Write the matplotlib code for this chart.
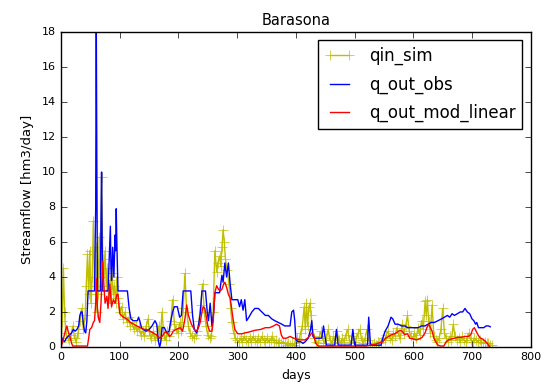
import matplotlib
matplotlib.use("Agg")
import matplotlib.pyplot as plt

plt.style.use("classic")

title = "Barasona"
xlabel = "days"
ylabel = "Streamflow [hm3/day]"
series_names = ["qin_sim", "q_out_obs", "q_out_mod_linear"]
x_ticks = [0, 100, 200, 300, 400, 500, 600, 700, 800]
y_ticks = [0, 2, 4, 6, 8, 10, 12, 14, 16, 18]

qin_days = [0, 2, 4, 6, 8, 11, 14, 17, 20, 23, 26, 29, 32, 35, 38,
            41, 43, 45, 47, 49, 51, 53, 55, 57, 59, 61, 63, 65, 67, 69, 71, 73, 75, 77, 79,
            81, 83, 85, 87, 89, 91, 93, 95, 97, 100, 103, 106, 109, 112, 115, 118, 121, 124,
            127, 130, 133, 136, 139, 142, 145, 148, 151, 154, 157, 160, 163, 166, 169, 172,
            175, 178, 181, 184, 187, 190, 193, 196, 199, 202, 205, 208, 211, 214, 217, 220,
            223, 226, 229, 232, 235, 238, 241, 244, 247, 250, 253, 256, 259, 262, 265, 267,
            270, 272, 274, 276, 278, 280, 283, 286, 289, 291, 294, 297, 300, 303, 306, 309,
            312, 315, 318, 321, 324, 327, 330, 333, 336, 339, 342, 345, 348, 351, 354, 357,
            360, 363, 366, 369, 372, 375, 378, 381, 384, 387, 390, 393, 396, 399, 402, 405,
            408, 411, 414, 416, 418, 420, 422, 424, 426, 428, 431, 434, 437, 440, 443, 446,
            449, 452, 455, 458, 461, 464, 467, 470, 473, 476, 479, 482, 485, 488, 491, 494,
            497, 500, 503, 506, 509, 512, 515, 518, 521, 524, 527, 530, 533, 536, 539, 542,
            545, 548, 551, 554, 557, 560, 563, 566, 569, 572, 575, 578, 581, 584, 587, 590,
            593, 596, 599, 602, 605, 608, 611, 614, 617, 620, 622, 624, 626, 629, 632, 635,
            638, 641, 644, 647, 650, 653, 656, 659, 662, 665, 668, 671, 674, 677, 680, 683,
            686, 689, 692, 695, 698, 701, 704, 707, 710, 713, 716, 719, 722, 725, 728, 731, 734]
qin_sim = [0.3, 1.5, 4.5, 2.0, 0.8, 0.5, 0.4, 0.7, 1.2, 0.5, 0.3, 0.8, 1.5, 2.2, 1.0,
           1.8, 3.5, 5.3, 3.0, 5.5, 2.5, 4.0, 7.2, 3.5, 5.7, 2.0, 3.0, 6.3, 4.0, 9.7, 5.0, 4.2, 5.5, 3.5, 4.5,
           2.8, 3.8, 2.5, 4.2, 3.0, 3.5, 2.5, 4.0, 2.8, 2.0, 2.3, 1.6, 2.0, 1.4, 1.7, 1.2, 1.4, 1.0,
           1.2, 0.9, 1.1, 0.7, 0.9, 0.6, 1.2, 1.6, 0.7, 0.5, 0.9, 0.4, 0.6, 1.2, 0.5, 2.0,
           0.7, 0.4, 0.9, 0.6, 1.5, 2.7, 1.3, 1.0, 0.8, 1.4, 0.9, 2.2, 4.2, 2.0, 1.2, 0.8,
           0.6, 0.5, 0.7, 0.9, 1.5, 2.4, 3.6, 2.0, 1.2, 0.7, 0.5, 0.6, 2.0, 5.5, 4.3, 4.8,
           5.2, 4.6, 5.7, 6.7, 6.0, 5.0, 4.4, 3.6, 2.2, 1.4, 0.8, 0.5, 0.4, 0.3, 0.5, 0.3,
           0.6, 0.4, 0.3, 0.5, 0.3, 0.6, 0.4, 0.3, 0.5, 0.3, 0.6, 0.4, 0.3, 0.5, 0.3, 0.4,
           0.6, 0.3, 0.4, 0.2, 0.3, 0.2, 0.3, 0.2, 0.1, 0.2, 0.1, 0.2, 0.1, 0.2, 0.5, 0.3,
           0.8, 1.2, 2.3, 1.0, 2.5, 1.2, 2.3, 2.5, 1.8, 1.0, 0.5, 0.3, 0.2, 0.6, 0.9, 0.4,
           0.2, 0.5, 1.0, 0.4, 0.2, 0.6, 0.3, 0.9, 0.4, 0.2, 0.5, 0.3, 0.7, 1.0, 0.4, 0.2,
           0.6, 0.3, 0.5, 0.8, 1.0, 0.4, 0.2, 0.5, 1.0, 0.4, 0.2, 0.1, 0.2, 0.1, 0.3, 0.2,
           0.3, 0.5, 0.4, 0.7, 0.9, 0.5, 0.4, 0.8, 0.6, 1.1, 0.7, 0.5, 1.3, 0.8, 1.2, 1.8,
           0.9, 0.6, 0.5, 0.8, 0.5, 1.1, 0.7, 1.5, 1.0, 2.6, 1.8, 2.7, 1.5, 0.8, 2.4, 0.6,
           0.4, 0.3, 0.5, 1.0, 2.2, 0.8, 0.5, 0.3, 0.6, 0.4, 1.3, 0.6, 0.4, 0.5, 0.3, 0.6,
           0.4, 0.3, 0.5, 0.8, 0.4, 0.3, 0.5, 0.4, 0.3, 0.4, 0.3, 0.2, 0.3, 0.2, 0.2, 0.1, 0.1]

obs_days = [0, 3, 6, 9, 12, 15, 18, 21, 24, 27, 30, 32, 34, 36, 38, 40, 42, 44, 46, 57, 59,
            60, 61, 62, 67, 68, 69, 70, 71, 80, 82, 84, 85, 86, 88, 90, 92, 93, 94, 95, 97,
            113, 116, 119, 123, 127, 130, 132, 134, 137, 140, 145, 150, 155, 160, 163, 166,
            168, 170, 172, 176, 180, 184, 187, 190, 193, 198, 202, 205, 208, 221, 224, 227,
            231, 234, 237, 240, 246, 249, 251, 254, 257, 260, 262, 270, 274, 276, 279, 282,
            285, 288, 291, 296, 301, 304, 307, 310, 313, 316, 320, 325, 330, 336, 342, 348,
            353, 359, 364, 370, 376, 381, 386, 390, 393, 396, 398, 400, 404, 408, 412, 416,
            421, 425, 427, 429, 432, 440, 444, 447, 450, 452, 466, 469, 472, 494, 497, 500,
            522, 524, 527, 545, 548, 552, 557, 562, 565, 569, 574, 580, 586, 590, 596, 602,
            608, 614, 620, 625, 630, 636, 642, 648, 653, 658, 662, 666, 670, 675, 680, 684,
            688, 692, 696, 700, 703, 706, 708, 711, 715, 720, 724, 728, 731]
q_out_obs = [0.6, 0.4, 0.3, 0.5, 0.6, 0.7, 0.8, 1.0, 0.9, 1.0, 1.2, 1.8, 2.0, 2.0, 1.3, 0.9, 0.8, 1.5, 3.2, 3.2, 8.0,
             18.5, 10.0, 3.2, 3.2, 7.0, 10.0, 6.0, 3.2, 3.2, 5.0, 6.9, 4.5, 3.8, 5.7, 4.0, 6.4, 5.5, 7.9, 6.0, 3.2,
             3.2, 2.2, 1.6, 1.5, 1.5, 1.5, 1.7, 1.5, 1.1, 1.0, 0.9, 1.0, 1.2, 1.5, 1.3, 0.3,
             0.0, 0.3, 1.1, 1.1, 0.8, 0.9, 1.5, 2.0, 2.3, 2.3, 1.7, 1.8, 3.2, 3.2, 1.8, 1.0,
             0.8, 1.2, 1.9, 3.2, 3.2, 2.0, 1.5, 2.5, 1.2, 2.0, 3.1, 3.1, 4.1, 3.7, 4.8, 4.0,
             4.8, 3.6, 2.7, 2.7, 2.7, 2.3, 2.7, 2.1, 2.7, 1.5, 1.7, 2.0, 2.2, 2.2, 2.0, 1.8,
             1.8, 1.6, 1.5, 1.4, 1.3, 1.2, 1.2, 1.2, 2.0, 2.1, 1.5, 0.4, 0.3, 0.3, 0.2, 0.3,
             0.5, 1.0, 1.5, 0.6, 0.5, 0.5, 0.5, 1.2, 0.5, 0.1, 0.1, 1.0, 0.1, 0.1, 1.0, 0.1,
             0.1, 1.7, 0.1, 0.1, 0.5, 0.9, 1.2, 1.7, 1.6, 1.3, 1.3, 1.2, 1.2, 1.1, 1.1, 1.1,
             1.1, 1.2, 1.2, 1.3, 1.4, 1.4, 1.5, 1.6, 1.7, 1.8, 1.7, 1.9, 1.8, 1.9, 2.0, 2.0,
             2.2, 2.0, 1.9, 1.6, 1.5, 1.3, 1.4, 1.1, 1.1, 1.1, 1.2, 1.2, 1.15]

mod_days = [0, 2, 5, 8, 10, 12, 15, 18, 20, 45, 47, 49, 52, 55, 57, 59, 60, 62, 64, 66, 68,
            71, 73, 75, 78, 80, 83, 86, 89, 92, 95, 97, 100, 106, 112, 118, 124, 129, 135,
            140, 146, 151, 157, 162, 168, 172, 176, 180, 185, 188, 191, 196, 203, 207, 211,
            214, 217, 222, 227, 231, 234, 237, 240, 242, 245, 248, 250, 253, 257, 259, 262,
            265, 268, 271, 274, 277, 279, 282, 285, 288, 291, 293, 296, 301, 308, 313, 320,
            330, 340, 348, 355, 362, 367, 372, 375, 378, 384, 390, 396, 401, 408, 415, 420,
            424, 427, 430, 434, 438, 520, 535, 548, 553, 558, 563, 568, 573, 577, 581, 585,
            590, 594, 600, 605, 610, 615, 620, 623, 626, 629, 632, 635, 638, 642, 646, 652,
            656, 660, 665, 670, 676, 682, 688, 694, 698, 701, 704, 707, 710, 714, 718, 722,
            726, 730]
q_out_mod_linear = [0.0, 0.2, 0.6, 1.0, 1.2, 0.9, 0.6, 0.2, 0.05, 0.05, 0.5, 1.0, 1.1, 1.4, 1.5, 2.5, 3.9, 2.2, 1.6, 1.4, 2.5,
                    4.9, 3.5, 2.5, 2.9, 2.2, 3.6, 2.3, 2.7, 2.5, 3.0, 3.0, 1.9, 1.7, 1.6, 1.4, 1.3, 1.2, 1.1,
                    1.0, 1.0, 0.9, 0.8, 0.7, 0.5, 0.6, 0.8, 0.85, 0.6, 0.7, 0.9, 1.0, 1.1, 0.9, 1.6,
                    2.4, 1.8, 1.3, 1.0, 0.9, 1.1, 1.4, 2.0, 2.3, 2.2, 1.6, 1.2, 0.9, 0.9, 1.4, 3.1,
                    3.5, 3.3, 3.2, 3.3, 3.6, 3.7, 3.4, 3.0, 2.8, 2.1, 1.6, 1.0, 0.75, 0.75, 0.8, 0.85,
                    0.95, 1.0, 1.1, 1.1, 1.2, 1.3, 1.2, 0.7, 0.5, 0.5, 0.6, 0.5, 0.45, 0.4, 0.4, 0.5,
                    0.65, 0.8, 0.7, 0.2, 0.05, 0.05, 0.15, 0.3, 0.5, 0.6, 0.7, 0.75, 0.85, 0.95, 0.9, 0.7,
                    0.75, 0.5, 0.45, 0.4, 0.45, 0.55, 0.8, 1.1, 1.3, 1.1, 0.9, 0.5, 0.3, 0.1, 0.05, 0.05,
                    0.3, 0.4, 0.45, 0.5, 0.55, 0.55, 0.6, 0.6, 0.7, 1.0, 1.1, 0.9, 0.7, 0.5, 0.45, 0.35,
                    0.2, 0.0]

fig = plt.figure(figsize=(5.5, 3.92), dpi=100, facecolor="white")
ax = fig.add_axes([0.111, 0.115, 0.854, 0.803])
ax.plot(qin_days, qin_sim, color="y", marker="+", markersize=7, linewidth=1.0, label=series_names[0])
ax.plot(obs_days, q_out_obs, color="b", linewidth=1.0, label=series_names[1])
ax.plot(mod_days, q_out_mod_linear, color="r", linewidth=1.0, label=series_names[2])

ax.set_xlim(0, 800)
ax.set_ylim(0, 18)
ax.set_xticks(x_ticks)
ax.set_yticks(y_ticks)
ax.tick_params(labelsize=8)
ax.set_xlabel(xlabel, fontsize=9)
ax.set_ylabel(ylabel, fontsize=9.5)
ax.set_title(title, fontsize=10.5)
ax.legend(loc="upper right", fontsize=12, numpoints=2, handlelength=1.75,
          handletextpad=0.9, labelspacing=0.6, borderaxespad=0.5)

fig.savefig("out.png", dpi=100, facecolor="white")
